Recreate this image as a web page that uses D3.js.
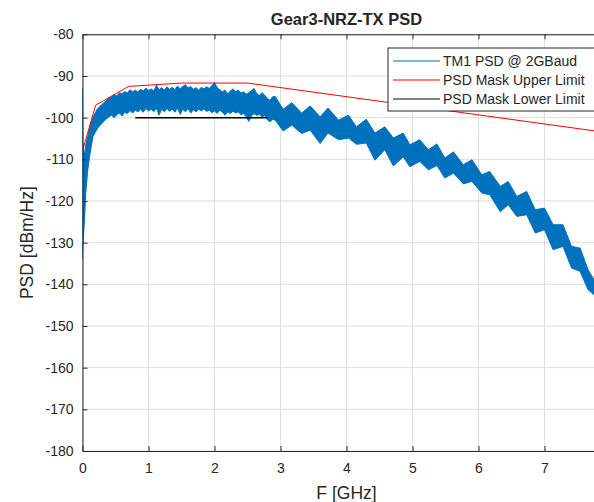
<!DOCTYPE html>
<html>
<head>
<meta charset="utf-8">
<script src="https://d3js.org/d3.v7.min.js"></script>
<style>
  body { margin: 0; background: #fff; }
  text { font-family: "Liberation Sans", Arial, sans-serif; fill: #262626; }
</style>
</head>
<body>
<div id="chart"></div>
<script>
// measured PSD trace, read as upper / lower edge of the noisy band
const psdFreq = [0, 0.005, 0.03, 0.05, 0.08, 0.12, 0.16, 0.23, 0.34, 0.40, 0.44, 0.48, 0.52, 0.56, 0.60, 0.64,
  0.68, 0.72, 0.76, 0.80, 0.84, 0.88, 0.92, 0.96, 1.00, 1.04, 1.08, 1.12, 1.16, 1.20, 1.24, 1.28,
  1.32, 1.36, 1.40, 1.44, 1.48, 1.52, 1.56, 1.60, 1.64, 1.68, 1.72, 1.76, 1.80, 1.84, 1.88, 1.92,
  1.96, 2.00, 2.04, 2.08, 2.12, 2.16, 2.20, 2.24, 2.28, 2.32, 2.36, 2.40, 2.44, 2.48, 2.52, 2.56,
  2.60, 2.64, 2.68, 2.72, 2.76, 2.80, 2.84, 2.88, 2.92, 3.04, 3.17, 3.32, 3.45, 3.60, 3.72, 3.88,
  4.03, 4.15, 4.30, 4.43, 4.58, 4.71, 4.86, 4.96, 5.11, 5.24, 5.37, 5.49, 5.62, 5.77, 5.90, 6.05,
  6.17, 6.33, 6.45, 6.58, 6.73, 6.86, 7.00, 7.13, 7.28, 7.41, 7.54, 7.66, 7.75, 7.85];
const psdHigh = [-93, -106, -109, -106.5, -104.5, -101.5, -99.8, -97.8, -96.2, -95.3, -95.0, -94.4, -94.8, -94.0, -94.3, -93.7,
  -94.1, -93.3, -93.8, -93.4, -93.9, -93.2, -93.6, -92.9, -93.5, -93.1, -93.6, -92.2, -93.3, -92.8, -93.4, -92.6,
  -93.2, -92.7, -93.3, -92.4, -93.1, -92.5, -92.1, -92.9, -92.5, -93.2, -92.8, -93.4, -92.7, -93.1, -92.6, -93.0,
  -92.3, -91.6, -92.8, -93.3, -93.8, -93.4, -94.3, -93.6, -93.1, -93.7, -93.4, -94.1, -93.8, -94.4, -94.0, -93.5,
  -93.0, -94.2, -94.7, -94.0, -94.6, -95.4, -95.8, -95.0, -94.9, -98.0, -96.4, -98.9, -97.2, -99.8, -97.7, -100.6,
  -99.4, -102.2, -100.4, -103.7, -102.2, -104.9, -103.7, -106.5, -105.3, -107.7, -106.3, -109.7, -108.2, -111.3, -110.1, -113.7,
  -112.9, -116.5, -115.3, -118.9, -117.7, -122.1, -121.7, -125.7, -125.7, -130.9, -131.3, -136.5, -138.9, -140.5];
const psdLow = [-134, -131, -124.5, -118, -112.5, -108, -104.5, -102.5, -100.6, -99.8, -99.4, -100.0, -99.3, -98.9, -99.6, -98.7,
  -99.0, -98.3, -98.9, -98.2, -98.6, -98.0, -98.7, -97.8, -98.4, -97.9, -98.6, -97.7, -99.4, -98.0, -98.6, -97.8,
  -98.5, -97.9, -98.7, -97.7, -99.2, -98.0, -98.6, -97.8, -98.9, -98.1, -98.6, -98.0, -98.4, -97.9, -98.5, -98.2,
  -98.8, -98.4, -99.0, -98.2, -98.7, -99.4, -98.6, -99.0, -98.4, -98.9, -98.6, -99.3, -99.0, -99.8, -100.9, -99.6,
  -99.0, -99.5, -99.2, -99.8, -99.5, -100.5, -101.0, -100.4, -100.6, -103.2, -101.8, -103.8, -103.0, -106.2, -103.7, -105.3,
  -104.9, -106.4, -106.1, -110.2, -107.7, -111.6, -109.4, -111.8, -110.5, -112.5, -111.5, -114.5, -113.3, -115.9, -115.3, -118.1,
  -118.5, -122.6, -120.9, -123.7, -123.3, -127.7, -126.9, -131.7, -130.9, -136.1, -136.9, -141.3, -142.5, -144.5];

// PSD masks
const upperFreq = [0, 0.2, 0.7, 1.5, 2.5, 8];
const upperLevel = [-108, -97, -92.5, -91.7, -91.7, -103.7];
const lowerFreq = [0.8, 2.8];
const lowerLevel = [-100, -100];

const xTicks = [0, 1, 2, 3, 4, 5, 6, 7, 8];
const xLabels = [0, 1, 2, 3, 4, 5, 6, 7];
const yTicks = [-180, -170, -160, -150, -140, -130, -120, -110, -100, -90, -80];
const seriesNames = ["TM1 PSD @ 2GBaud", "PSD Mask Upper Limit", "PSD Mask Lower Limit"];
const seriesColors = ["#0072BD", "#ff0000", "#000000"];

const W = 594, H = 502;
const margin = {top: 34.3, left: 82.5};
const width = 528, height = 416.7;

const svg = d3.select("#chart").append("svg")
    .attr("width", W)
    .attr("height", H);

const x = d3.scaleLinear().domain([0, 8]).range([margin.left, margin.left + width]);
const y = d3.scaleLinear().domain([-180, -80]).range([margin.top + height, margin.top]);

// grid
svg.append("g").selectAll("line").data(xTicks).enter().append("line")
    .attr("x1", d => x(d)).attr("x2", d => x(d))
    .attr("y1", y(-180)).attr("y2", y(-80))
    .attr("stroke", "#dedede");
svg.append("g").selectAll("line").data(yTicks).enter().append("line")
    .attr("x1", x(0)).attr("x2", x(8))
    .attr("y1", d => y(d)).attr("y2", d => y(d))
    .attr("stroke", "#dedede");

svg.append("clipPath").attr("id", "plotclip")
  .append("rect")
    .attr("x", x(0)).attr("y", y(-80))
    .attr("width", width).attr("height", height);

const plot = svg.append("g").attr("clip-path", "url(#plotclip)");

// PSD band
const band = psdFreq.map((f, i) => ({f: f, hi: psdHigh[i], lo: psdLow[i]}));
plot.append("path")
    .datum(band)
    .attr("fill", seriesColors[0])
    .attr("stroke", seriesColors[0])
    .attr("stroke-width", 1)
    .attr("stroke-linejoin", "round")
    .attr("d", d3.area().x(d => x(d.f)).y0(d => y(d.lo)).y1(d => y(d.hi)));

const line = d3.line().x(d => x(d[0])).y(d => y(d[1]));

plot.append("path")
    .datum(upperFreq.map((f, i) => [f, upperLevel[i]]))
    .attr("fill", "none")
    .attr("stroke", seriesColors[1])
    .attr("stroke-width", 1)
    .attr("d", line);

plot.append("path")
    .datum(lowerFreq.map((f, i) => [f, lowerLevel[i]]))
    .attr("fill", "none")
    .attr("stroke", seriesColors[2])
    .attr("stroke-width", 1.5)
    .attr("d", line);

// axes, ticks inward like matlab
const styleAxis = g => {
    g.selectAll("path, line").attr("stroke", "#262626");
    g.selectAll("text").attr("fill", "#262626")
        .style("font-family", '"Liberation Sans", Arial, sans-serif')
        .style("font-size", "14px");
};

svg.append("g")
    .attr("transform", `translate(0,${y(-180)})`)
    .call(d3.axisBottom(x).tickValues(xTicks).tickSizeInner(-5).tickSizeOuter(0).tickPadding(12)
        .tickFormat(d => xLabels.includes(d) ? String(d) : ""))
    .call(styleAxis);

svg.append("g")
    .attr("transform", `translate(0,${y(-80)})`)
    .call(d3.axisTop(x).tickValues(xTicks).tickSizeInner(-5).tickSizeOuter(0).tickFormat(""))
    .call(styleAxis);

svg.append("g")
    .attr("transform", `translate(${x(0)},0)`)
    .call(d3.axisLeft(y).tickValues(yTicks).tickSizeInner(-5).tickSizeOuter(0).tickPadding(9).tickFormat(d => String(d)))
    .call(styleAxis);

svg.append("g")
    .attr("transform", `translate(${x(8)},0)`)
    .call(d3.axisRight(y).tickValues(yTicks).tickSizeInner(-5).tickSizeOuter(0).tickFormat(""))
    .call(styleAxis);

// labels
svg.append("text")
    .attr("x", (x(0) + x(8)) / 2)
    .attr("y", 25)
    .attr("text-anchor", "middle")
    .attr("font-size", "16.5px")
    .attr("font-weight", "bold")
    .text("Gear3-NRZ-TX PSD");

svg.append("text")
    .attr("x", (x(0) + x(8)) / 2)
    .attr("y", 499)
    .attr("text-anchor", "middle")
    .attr("font-size", "17.5px")
    .text("F [GHz]");

svg.append("text")
    .attr("transform", `translate(33,${(y(-80) + y(-180)) / 2}) rotate(-90)`)
    .attr("text-anchor", "middle")
    .attr("font-size", "17.5px")
    .text("PSD [dBm/Hz]");

// legend
const legend = svg.append("g").attr("transform", "translate(388,48)");
legend.append("rect")
    .attr("width", 212).attr("height", 63)
    .attr("fill", "#fff")
    .attr("stroke", "#262626");

const rows = legend.selectAll("g.row").data(seriesNames).enter().append("g")
    .attr("class", "row")
    .attr("transform", (d, i) => `translate(0,${13 + i * 19})`);
rows.append("line")
    .attr("x1", 5).attr("x2", 52)
    .attr("stroke", (d, i) => seriesColors[i])
    .attr("stroke-width", 1);
rows.append("text")
    .attr("x", 55)
    .attr("dy", "0.35em")
    .attr("font-size", "14px")
    .text(d => d);
</script>
</body>
</html>
